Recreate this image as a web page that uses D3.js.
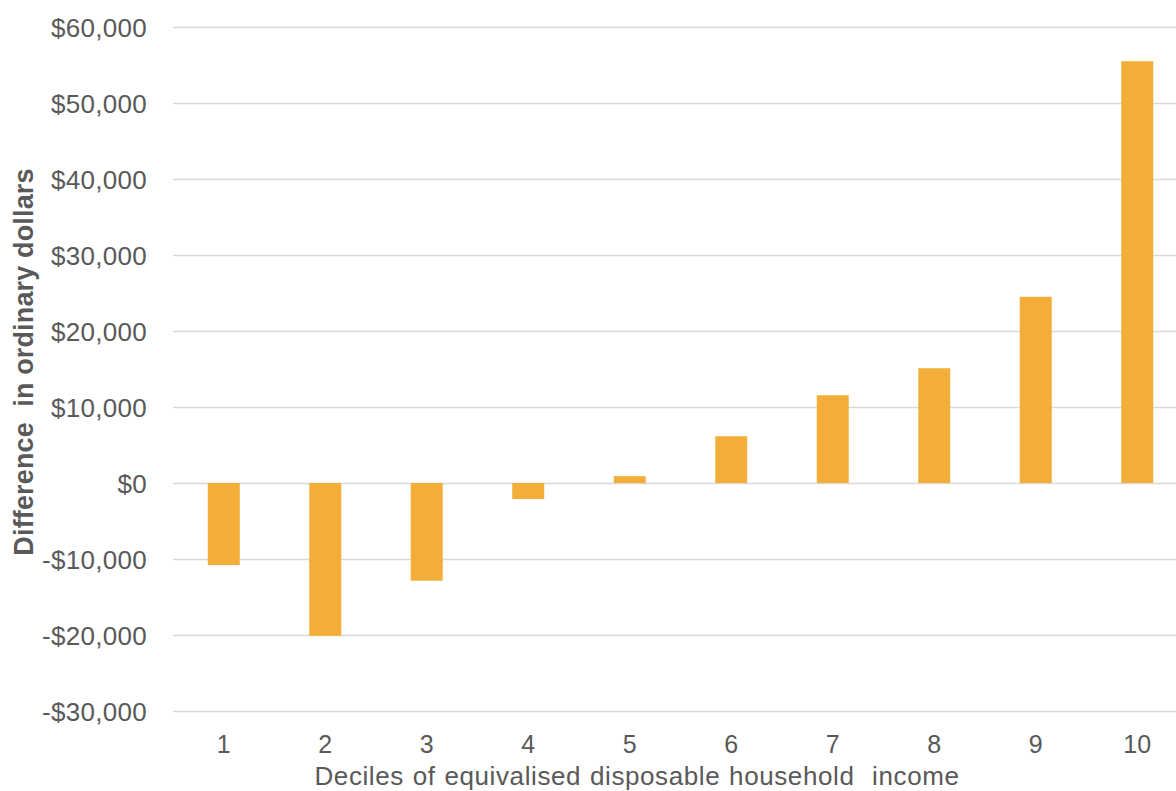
<!DOCTYPE html>
<html><head><meta charset="utf-8">
<script src="https://cdn.jsdelivr.net/npm/d3@7"></script>
<style>body{margin:0;background:#fff;} svg{display:block;font-family:"Liberation Sans",Arial,sans-serif;}</style>
</head><body>
<svg id="c" width="1176" height="791"></svg>
<script>
const deciles = ["1","2","3","4","5","6","7","8","9","10"];
const differences = [-10800, -20100, -12850, -2100, 900, 6150, 11550, 15100, 24500, 55500];
const yTicks = [-30000,-20000,-10000,0,10000,20000,30000,40000,50000,60000];

const svg = d3.select("#c");
const x = d3.scaleBand().domain(deciles).range([173, 1188]).paddingInner(0.685).paddingOuter(0.3425);
const y = d3.scaleLinear().domain([-30000, 60000]).range([711, 27]);
const fmt = v => (v < 0 ? "-$" : "$") + d3.format(",")(Math.abs(v));

const yAxis = svg.append("g").attr("transform","translate(173,0)")
  .call(d3.axisLeft(y).tickValues(yTicks).tickFormat(fmt).tickSize(-1003).tickPadding(26));
yAxis.select(".domain").remove();
yAxis.selectAll(".tick line").attr("stroke","#d9d9d9").attr("stroke-width",1.3);
yAxis.selectAll(".tick text").attr("fill","#595959").style("font-size","26px").style("letter-spacing","0.3px").attr("dy","0.36em");

svg.append("g").selectAll("rect").data(differences).join("rect")
  .attr("x",(d,i)=>x(deciles[i]))
  .attr("width",x.bandwidth())
  .attr("y",d=>y(Math.max(0,d)))
  .attr("height",d=>Math.abs(y(d)-y(0)))
  .attr("fill","#f2ae38");

const xAxis = svg.append("g").attr("transform","translate(0,711)")
  .call(d3.axisBottom(x).tickSize(0));
xAxis.select(".domain").remove();
xAxis.selectAll(".tick text").attr("fill","#595959").style("font-size","25px").attr("y",42).attr("dy","0");

svg.append("text").attr("x",637).attr("y",785).attr("text-anchor","middle")
  .attr("fill","#595959").style("font-size","26px").style("letter-spacing","0.6px").style("word-spacing","1px")
  .style("white-space","pre")
  .text("Deciles of equivalised disposable household  income");

svg.append("text").attr("transform","translate(33,362) rotate(-90)").attr("text-anchor","middle")
  .attr("fill","#595959").style("font-size","27px").style("font-weight","bold").style("white-space","pre")
  .style("letter-spacing","0.15px")
  .text("Difference  in ordinary dollars");
</script>
</body></html>
